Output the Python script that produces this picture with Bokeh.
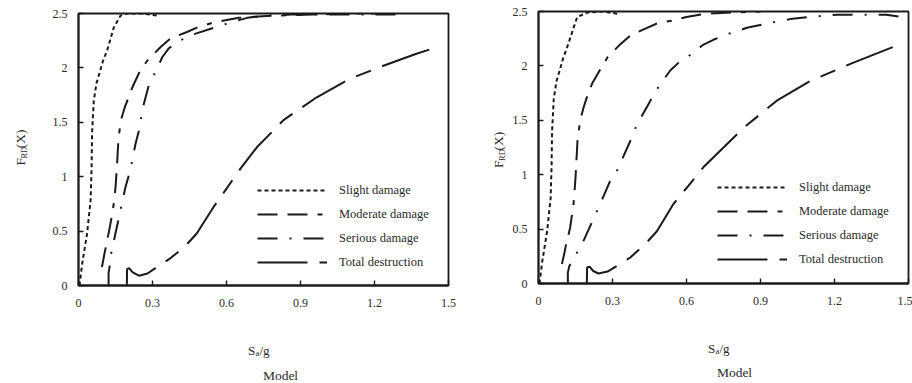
import math
from bokeh.plotting import figure
from bokeh.models import Legend, LegendItem, Label, Range1d
from bokeh.layouts import row, column
from bokeh.embed import file_html
from bokeh.resources import INLINE

# ---------------- data ----------------
x_ticks = [0, 0.3, 0.6, 0.9, 1.2, 1.5]
x_tick_labels = ["0", "0.3", "0.6", "0.9", "1.2", "1.5"]
y_ticks = [0, 0.5, 1, 1.5, 2, 2.5]
y_tick_labels = ["0", "0.5", "1", "1.5", "2", "2.5"]
series_names = ["Slight damage", "Moderate damage", "Serious damage", "Total destruction"]

# left panel
slight_x1 = [0.004, 0.015, 0.035, 0.049, 0.053, 0.055, 0.062, 0.073, 0.086, 0.10, 0.116, 0.143, 0.170, 0.197, 0.26, 0.324]
slight_y1 = [0.0, 0.20, 0.48, 0.78, 1.08, 1.40, 1.70, 1.86, 1.96, 2.07, 2.16, 2.37, 2.48, 2.50, 2.50, 2.48]
moderate_x1 = [0.095, 0.105, 0.116, 0.128, 0.140, 0.150, 0.156, 0.162, 0.172, 0.188, 0.203, 0.218, 0.251, 0.28, 0.332, 0.373, 0.44, 0.48, 0.55, 0.65, 0.78, 0.95, 1.10, 1.30]
moderate_y1 = [0.17, 0.29, 0.41, 0.55, 0.70, 0.90, 1.10, 1.35, 1.52, 1.64, 1.73, 1.82, 1.98, 2.07, 2.19, 2.27, 2.33, 2.37, 2.42, 2.46, 2.48, 2.49, 2.50, 2.50]
serious_x1 = [0.122, 0.122, 0.126, 0.132, 0.150, 0.170, 0.190, 0.211, 0.231, 0.248, 0.258, 0.272, 0.285, 0.305, 0.34, 0.366, 0.41, 0.468, 0.55, 0.62, 0.684, 0.76, 0.86, 1.0, 1.2, 1.30]
serious_y1 = [0.0, 0.12, 0.17, 0.29, 0.48, 0.69, 0.90, 1.07, 1.30, 1.45, 1.61, 1.73, 1.84, 1.93, 2.10, 2.18, 2.25, 2.31, 2.37, 2.42, 2.46, 2.48, 2.49, 2.49, 2.49, 2.49]
total_x1 = [0.196, 0.197, 0.205, 0.22, 0.245, 0.28, 0.318, 0.372, 0.432, 0.48, 0.547, 0.60, 0.655, 0.723, 0.831, 0.966, 1.10, 1.236, 1.37, 1.466]
total_y1 = [0.0, 0.15, 0.16, 0.12, 0.09, 0.11, 0.17, 0.25, 0.36, 0.48, 0.72, 0.89, 1.07, 1.27, 1.52, 1.73, 1.90, 2.02, 2.13, 2.20]

# right panel
slight_x2 = [0.004, 0.015, 0.035, 0.049, 0.053, 0.055, 0.062, 0.073, 0.086, 0.10, 0.116, 0.157, 0.197, 0.26, 0.319]
slight_y2 = [0.0, 0.20, 0.48, 0.78, 1.08, 1.40, 1.70, 1.86, 1.96, 2.07, 2.17, 2.45, 2.49, 2.50, 2.48]
moderate_x2 = [0.095, 0.104, 0.112, 0.128, 0.142, 0.150, 0.158, 0.169, 0.183, 0.203, 0.218, 0.251, 0.28, 0.332, 0.373, 0.44, 0.48, 0.55, 0.60, 0.68, 0.78, 0.90]
moderate_y2 = [0.18, 0.27, 0.36, 0.51, 0.73, 0.97, 1.31, 1.50, 1.62, 1.76, 1.84, 1.97, 2.08, 2.20, 2.28, 2.35, 2.39, 2.42, 2.45, 2.48, 2.49, 2.50]
serious_x2 = [0.119, 0.119, 0.125, 0.155, 0.182, 0.216, 0.25, 0.29, 0.311, 0.331, 0.372, 0.399, 0.439, 0.461, 0.493, 0.535, 0.568, 0.603, 0.665, 0.709, 0.764, 0.845, 0.926, 1.02, 1.10, 1.21, 1.30, 1.41, 1.50]
serious_y2 = [0.0, 0.10, 0.16, 0.28, 0.39, 0.56, 0.73, 0.94, 1.00, 1.10, 1.31, 1.46, 1.62, 1.71, 1.83, 1.96, 2.03, 2.08, 2.19, 2.24, 2.29, 2.35, 2.39, 2.43, 2.45, 2.47, 2.47, 2.47, 2.44]
total_x2 = [0.196, 0.197, 0.207, 0.222, 0.243, 0.28, 0.318, 0.372, 0.432, 0.48, 0.547, 0.601, 0.669, 0.75, 0.831, 0.966, 1.101, 1.277, 1.466]
total_y2 = [0.0, 0.147, 0.155, 0.115, 0.092, 0.11, 0.162, 0.239, 0.36, 0.48, 0.73, 0.88, 1.07, 1.25, 1.43, 1.68, 1.86, 2.03, 2.20]

# ---------------- style ----------------
FONT = "Liberation Serif"
INK = "#1a1a1a"
TXT = "#2a2a2a"
FW, FH = 370, 272
XMAX, YMAX = 1.5, 2.5
DASHES = ["4 3", "20 10 20 10 5 10", "20 12 2 12", "50 12 16 12"]


def blank(width, height):
    s = figure(width=width, height=height, x_range=Range1d(0, width),
               y_range=Range1d(0, height), output_backend="svg",
               toolbar_location=None, x_axis_location=None, y_axis_location=None,
               min_border=0, min_border_left=0, min_border_right=0,
               min_border_top=0, min_border_bottom=0,
               background_fill_color="white", border_fill_color="white")
    s.outline_line_color = None
    s.grid.visible = False
    return s


def lab(fig, x, y, text, size, angle=0.0, align="left"):
    fig.add_layout(Label(x=x, y=y, text=text, angle=angle, text_align=align,
                         text_baseline="alphabetic", text_font=FONT,
                         text_font_size=size, text_color=TXT))


def make_panel(curves, borders, legend_loc):
    left, right, top, bottom = borders
    p = figure(width=left + FW + right, height=top + FH + bottom,
               x_range=Range1d(0, XMAX), y_range=Range1d(0, YMAX),
               output_backend="svg", toolbar_location=None,
               min_border_left=left, min_border_right=right,
               min_border_top=top, min_border_bottom=bottom,
               background_fill_color="white", border_fill_color="white")
    p.xgrid.visible = False
    p.ygrid.visible = False
    p.outline_line_color = INK
    p.outline_line_width = 1.8

    for ax in (p.xaxis, p.yaxis):
        ax.axis_line_color = INK
        ax.axis_line_width = 1.8
        ax.major_tick_in = 5
        ax.major_tick_out = 0
        ax.major_tick_line_color = INK
        ax.major_tick_line_width = 1.4
        ax.minor_tick_line_color = None
        ax.major_label_text_font = FONT
        ax.major_label_text_font_size = "12px"
        ax.major_label_text_color = TXT
    p.xaxis.ticker = x_ticks
    p.xaxis.major_label_overrides = {t: l for t, l in zip(x_ticks, x_tick_labels)}
    p.xaxis.major_label_standoff = 13
    p.yaxis.ticker = y_ticks
    p.yaxis.major_label_overrides = {t: l for t, l in zip(y_ticks, y_tick_labels)}
    p.yaxis.major_label_standoff = 11

    items = []
    for (xs, ys), name, dash in zip(curves, series_names, DASHES):
        r = p.line(xs, ys, line_color=INK, line_width=2.0, line_dash=dash)
        items.append(LegendItem(label=name, renderers=[r]))
    legend = Legend(items=items, location=legend_loc, padding=0, margin=0,
                    spacing=4, glyph_width=70, glyph_height=20, label_height=20,
                    label_standoff=12, border_line_color=None,
                    background_fill_alpha=0, label_text_font=FONT,
                    label_text_font_size="12.5px", label_text_color=TXT)
    p.add_layout(legend)
    return p


def y_strip(width, height, base_x, center_y):
    s = blank(width, height)
    start = center_y - 19
    lab(s, base_x, start, "F", "13.5px", math.pi / 2)
    lab(s, base_x + 3, start + 8, "RD", "8.5px", math.pi / 2)
    lab(s, base_x, start + 20, "(X)", "13.5px", math.pi / 2)
    return s


def x_strip(width, height, cx, base_y, mx, my):
    s = blank(width, height)
    s0 = cx - 10.5
    lab(s, s0, base_y, "S", "13px")
    lab(s, s0 + 7.4, base_y - 2.5, "a", "8.5px")
    lab(s, s0 + 11.4, base_y, "/g", "13px")
    lab(s, mx, my, "Model", "13.5px", align="center")
    return s


# left panel: page x 0..460
p1 = make_panel([(slight_x1, slight_y1), (moderate_x1, moderate_y1),
                 (serious_x1, serious_y1), (total_x1, total_y1)],
                borders=(38, 12, 13, 30), legend_loc=(179, 13))
ys1 = y_strip(40, 315, 20, 158)
xs1 = x_strip(460, 68, 258, 33, 280, 8)

# right panel: page x 460..912
p2 = make_panel([(slight_x2, slight_y2), (moderate_x2, moderate_y2),
                 (serious_x2, serious_y2), (total_x2, total_y2)],
                borders=(30, 4, 11, 30), legend_loc=(179, 14))
ys2 = y_strip(48, 313, 38, 152)
xs2 = x_strip(452, 70, 258, 35, 274, 11)

layout = row(column(row(ys1, p1), xs1), column(row(ys2, p2), xs2))
open("out.html", "w").write(file_html(layout, INLINE))
